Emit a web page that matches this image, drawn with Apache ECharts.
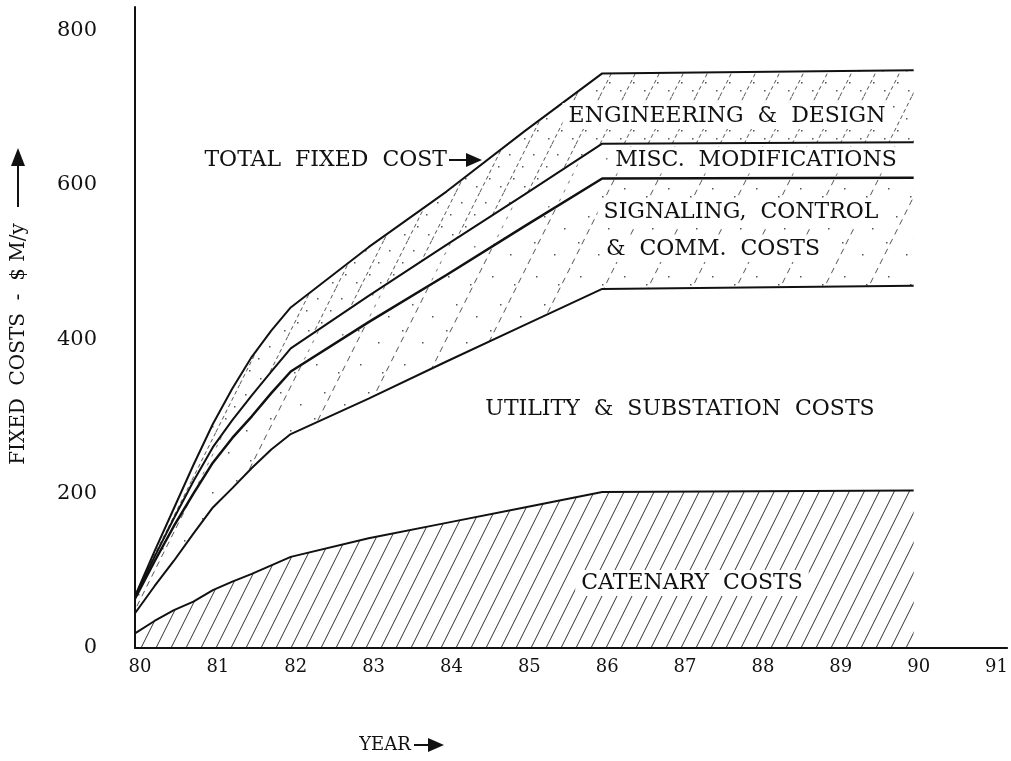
<!DOCTYPE html>
<html>
<head>
<meta charset="utf-8">
<title>Fixed costs</title>
<script src="https://cdn.jsdelivr.net/npm/echarts@6/dist/echarts.min.js"></script>
<style>
  html, body { margin: 0; padding: 0; background: #fff; }
  #chart { width: 1011px; height: 761px; }
</style>
</head>
<body>
<div id="chart"></div>
<script>
// sample years along the curves
var years = [80, 80.25, 80.5, 80.75, 81, 81.25, 81.5, 81.75, 82, 83, 84, 85, 86, 90];
// upper edge of each band, $M/y
var catenaryTop  = [19, 35, 49, 60, 75, 86, 96, 107, 118, 142, 162, 182, 202, 204];
var utilityTop   = [45, 80, 113, 148, 182, 207, 233, 257, 277, 323, 371, 418, 465, 469];
var signalingTop = [64, 112, 158, 200, 240, 272, 300, 330, 358, 422, 483, 546, 608, 609];
var miscTop      = [66, 118, 168, 216, 260, 295, 327, 358, 388, 456, 522, 587, 653, 655];
var totalTop     = [67, 125, 181, 237, 290, 336, 377, 411, 441, 519, 591, 669, 744, 748];

var bandNames = ['CATENARY COSTS', 'UTILITY & SUBSTATION COSTS', 'SIGNALING, CONTROL & COMM. COSTS', 'MISC. MODIFICATIONS', 'ENGINEERING & DESIGN'];

var FONT = 'DejaVu Serif';
var INK = '#111';

// opaque hatch tile: white ground, steep "/" lines (slope 2) and a few dots
function hatch(w, dash, dots, color) {
  var h = w * 2;
  var c = document.createElement('canvas');
  c.width = w;
  c.height = h;
  var ctx = c.getContext('2d');
  ctx.fillStyle = '#fff';
  ctx.fillRect(0, 0, w, h);
  ctx.strokeStyle = color;
  ctx.lineWidth = 1;
  if (dash) ctx.setLineDash(dash);
  for (var k = -1; k <= 1; k++) {
    ctx.beginPath();
    ctx.moveTo(k * w, h);
    ctx.lineTo(k * w + w, 0);
    ctx.stroke();
  }
  ctx.fillStyle = color;
  dots.forEach(function(d) {
    ctx.fillRect(d[0], d[1], 1.5, 1.5);
  });
  return { image: c, repeat: 'repeat' };
}

var fills = [
  hatch(15, null, [], '#333'),
  '#fff',
  hatch(44, [6, 5], [[8, 12], [30, 20], [16, 40], [36, 52], [6, 66], [26, 78]], '#555'),
  hatch(44, [3, 7], [[20, 30], [34, 70]], '#777'),
  hatch(24, [4, 3], [[5, 10], [18, 22], [9, 34], [20, 42]], '#555')
];

var tops = [catenaryTop, utilityTop, signalingTop, miscTop, totalTop];

function pairs(arr) {
  return years.map(function(y, k) {
    return [y, arr[k]];
  });
}

// each band is filled from its top edge down to zero; the lower bands are
// drawn afterwards and cover it, so only the strip between two edges stays
var areaSeries = tops.map(function(t, i) {
  return {
    name: bandNames[i],
    type: 'line',
    data: pairs(t),
    symbol: 'none',
    silent: true,
    z: 3 + (4 - i) * 0.01,
    lineStyle: { width: 0 },
    areaStyle: { color: fills[i], opacity: 1 }
  };
}).reverse();

var lineSeries = tops.map(function(t, i) {
  return {
    name: bandNames[i] + ' edge',
    type: 'line',
    data: pairs(t),
    symbol: 'none',
    silent: true,
    z: 5,
    lineStyle: { color: INK, width: i === 2 ? 2.5 : 2 }
  };
});

function label(text, x, y, align, size, bg) {
  return {
    type: 'text',
    x: x,
    y: y,
    z: 100,
    style: {
      text: text,
      fill: INK,
      font: (size || 22) + 'px "' + FONT + '"',
      textAlign: align || 'center',
      textVerticalAlign: 'middle',
      backgroundColor: bg ? '#fff' : null,
      padding: bg ? [2, 6] : 0
    }
  };
}

var chart = echarts.init(document.getElementById('chart'));
chart.setOption({
  animation: false,
  backgroundColor: '#fff',
  grid: { left: 135, right: 3, top: 7, bottom: 113 },
  xAxis: {
    type: 'value',
    min: 80,
    max: 91.2,
    interval: 1,
    z: 10,
    axisLine: { show: true, lineStyle: { color: INK, width: 2 } },
    axisTick: { show: false },
    splitLine: { show: false },
    axisLabel: {
      showMaxLabel: false,
      margin: 10,
      padding: [0, 0, 0, 10],
      color: INK,
      fontFamily: FONT,
      fontSize: 18
    }
  },
  yAxis: {
    type: 'value',
    min: 0,
    max: 830,
    interval: 200,
    z: 10,
    axisLine: { show: true, lineStyle: { color: INK, width: 2 } },
    axisTick: { show: false },
    splitLine: { show: false },
    axisLabel: {
      showMaxLabel: false,
      margin: 38,
      color: INK,
      fontFamily: FONT,
      fontSize: 21
    }
  },
  series: areaSeries.concat(lineSeries),
  graphic: [
    label('ENGINEERING  &  DESIGN', 727, 116, 'center', 22, true),
    label('MISC.  MODIFICATIONS', 756, 160, 'center', 22, true),
    label('SIGNALING,  CONTROL', 741, 212, 'center', 22, true),
    label('&  COMM.  COSTS', 713, 249, 'center', 22, true),
    label('UTILITY  &  SUBSTATION  COSTS', 680, 409),
    label('CATENARY  COSTS', 692, 583, 'center', 22, true),
    label('TOTAL  FIXED  COST', 447, 160, 'right'),
    { type: 'line', z: 100, shape: { x1: 449, y1: 160, x2: 470, y2: 160 }, style: { stroke: INK, lineWidth: 2 } },
    { type: 'polygon', z: 100, shape: { points: [[466, 153], [482, 160], [466, 167]] }, style: { fill: INK } },
    label('YEAR', 385, 745, 'center', 18),
    { type: 'line', z: 100, shape: { x1: 414, y1: 745, x2: 432, y2: 745 }, style: { stroke: INK, lineWidth: 2 } },
    { type: 'polygon', z: 100, shape: { points: [[428, 738], [444, 745], [428, 752]] }, style: { fill: INK } },
    {
      type: 'text',
      x: 19,
      y: 344,
      rotation: Math.PI / 2,
      z: 100,
      style: {
        text: 'FIXED  COSTS  -  $ M/y',
        fill: INK,
        font: '20px "' + FONT + '"',
        textAlign: 'center',
        textVerticalAlign: 'middle'
      }
    },
    { type: 'line', z: 100, shape: { x1: 18, y1: 207, x2: 18, y2: 162 }, style: { stroke: INK, lineWidth: 2 } },
    { type: 'polygon', z: 100, shape: { points: [[11, 166], [18, 148], [25, 166]] }, style: { fill: INK } }
  ]
});
</script>
</body>
</html>
